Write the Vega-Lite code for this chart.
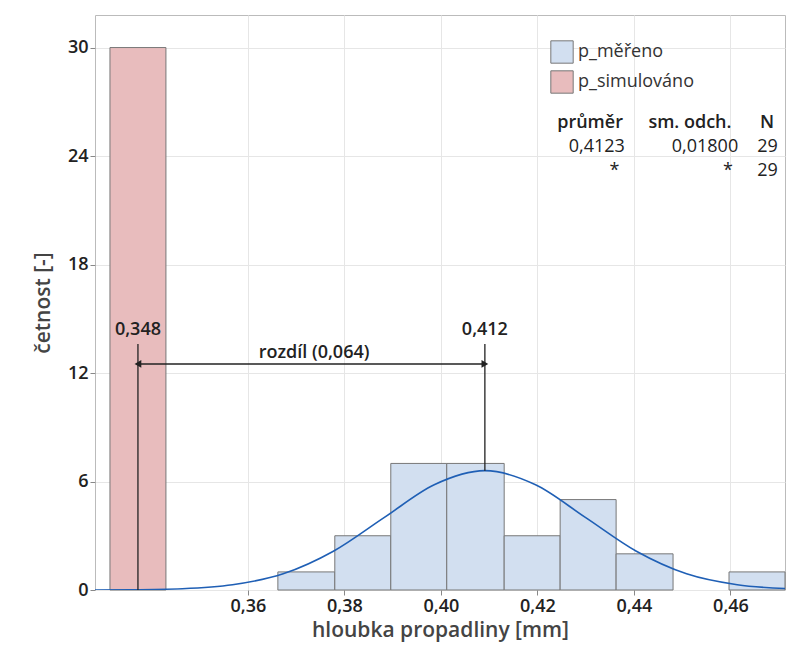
{
  "$schema": "https://vega.github.io/schema/vega-lite/v6.json",
  "width": 690,
  "height": 575,
  "autosize": {"type": "none"},
  "padding": {"left": 95, "top": 15, "right": 10, "bottom": 62},
  "config": {
    "locale": {"number": {"decimal": ",", "thousands": " ", "grouping": [3], "currency": ["", ""]}},
    "font": "Open Sans",
    "view": {"stroke": "#bbbbbb"},
    "axis": {"labelFontSize": 18, "labelFontWeight": 600, "titleFontSize": 21, "titleFontWeight": 600, "titleColor": "#444", "labelColor": "#222", "gridColor": "#e6e6e6", "domain": false, "tickColor": "#888"}
  },
  "datasets": {
    "bars": [
      {"s": "p_simulováno", "x0": 0.3314, "x1": 0.3430, "b": 0, "n": 30},
      {"s": "p_měřeno", "x0": 0.3662, "x1": 0.3780, "b": 0, "n": 1},
      {"s": "p_měřeno", "x0": 0.3780, "x1": 0.3896, "b": 0, "n": 3},
      {"s": "p_měřeno", "x0": 0.3896, "x1": 0.4012, "b": 0, "n": 7},
      {"s": "p_měřeno", "x0": 0.4012, "x1": 0.4131, "b": 0, "n": 7},
      {"s": "p_měřeno", "x0": 0.4131, "x1": 0.4247, "b": 0, "n": 3},
      {"s": "p_měřeno", "x0": 0.4247, "x1": 0.4363, "b": 0, "n": 5},
      {"s": "p_měřeno", "x0": 0.4363, "x1": 0.4481, "b": 0, "n": 2},
      {"s": "p_měřeno", "x0": 0.4597, "x1": 0.4713, "b": 0, "n": 1}
    ],
    "curve": [
      {"x": 0.3283, "y": 0.004},
      {"x": 0.3359, "y": 0.0145},
      {"x": 0.3464, "y": 0.073},
      {"x": 0.3568, "y": 0.290},
      {"x": 0.3673, "y": 0.893},
      {"x": 0.3777, "y": 2.14},
      {"x": 0.3882, "y": 4.00},
      {"x": 0.3986, "y": 5.82},
      {"x": 0.4091, "y": 6.6},
      {"x": 0.4196, "y": 5.82},
      {"x": 0.4300, "y": 4.00},
      {"x": 0.4405, "y": 2.14},
      {"x": 0.4509, "y": 0.893},
      {"x": 0.4614, "y": 0.290},
      {"x": 0.4713, "y": 0.08}
    ],
    "vlines": [
      {"x": 0.3372, "y0": 0, "y1": 13.6},
      {"x": 0.4091, "y0": 6.6, "y1": 13.6}
    ],
    "labelsC": [
      {"x": 0.3372, "y": 14.4, "t": "0,348"},
      {"x": 0.4091, "y": 14.4, "t": "0,412"},
      {"x": 0.3737, "y": 13.1, "t": "rozdíl (0,064)"},
      {"x": 0.4309, "y": 25.8, "t": "průměr"},
      {"x": 0.4516, "y": 25.8, "t": "sm. odch."},
      {"x": 0.4676, "y": 25.8, "t": "N"}
    ],
    "labelsR": [
      {"x": 0.4381, "y": 24.5, "t": "0,4123"},
      {"x": 0.4616, "y": 24.5, "t": "0,01800"},
      {"x": 0.4698, "y": 24.5, "t": "29"},
      {"x": 0.4370, "y": 23.2, "t": "*"},
      {"x": 0.4605, "y": 23.2, "t": "*"},
      {"x": 0.4698, "y": 23.2, "t": "29"}
    ],
    "arrow": [
      {"x": 0.3372, "y": 12.5, "sh": "triangle-left"},
      {"x": 0.4091, "y": 12.5, "sh": "triangle-right"}
    ]
  },
  "layer": [
    {
      "data": {"name": "bars"},
      "mark": {"type": "rect", "stroke": "#777", "strokeWidth": 1},
      "encoding": {
        "x": {"field": "x0", "type": "quantitative", "scale": {"domain": [0.3283, 0.4713], "nice": false, "zero": false}, "axis": {"values": [0.36, 0.38, 0.40, 0.42, 0.44, 0.46], "format": ".2f", "grid": true, "title": "hloubka propadliny [mm]"}},
        "x2": {"field": "x1"},
        "y": {"field": "b", "type": "quantitative", "scale": {"domain": [0, 31.8], "nice": false}, "axis": {"values": [0, 6, 12, 18, 24, 30], "grid": true, "title": "četnost [-]", "titlePadding": 14}},
        "y2": {"field": "n"},
        "fill": {"field": "s", "type": "nominal", "scale": {"domain": ["p_měřeno", "p_simulováno"], "range": ["#d2dff0", "#e8bcbd"]},
          "legend": {"title": null, "orient": "none", "legendX": 455, "legendY": 25, "symbolType": "square", "symbolSize": 500, "labelFontSize": 18, "labelColor": "#333", "symbolStrokeColor": "#777", "symbolStrokeWidth": 1, "rowPadding": 2}}
      }
    },
    {
      "data": {"name": "curve"},
      "mark": {"type": "line", "color": "#1f5fb5", "strokeWidth": 1.6, "interpolate": "monotone", "clip": true},
      "encoding": {"x": {"field": "x", "type": "quantitative"}, "y": {"field": "y", "type": "quantitative"}}
    },
    {
      "data": {"name": "vlines"},
      "mark": {"type": "rule", "color": "#222", "strokeWidth": 1.3},
      "encoding": {"x": {"field": "x", "type": "quantitative"}, "y": {"field": "y0", "type": "quantitative"}, "y2": {"field": "y1"}}
    },
    {
      "data": {"values": [{"a": 0.3372, "b": 0.4091, "y": 12.5}]},
      "mark": {"type": "rule", "color": "#222", "strokeWidth": 1.3},
      "encoding": {"x": {"field": "a", "type": "quantitative"}, "x2": {"field": "b"}, "y": {"field": "y", "type": "quantitative"}}
    },
    {
      "data": {"name": "arrow"},
      "mark": {"type": "point", "filled": true, "color": "#222", "size": 60, "opacity": 1},
      "encoding": {"x": {"field": "x", "type": "quantitative"}, "y": {"field": "y", "type": "quantitative"}, "shape": {"field": "sh", "type": "nominal", "scale": null}}
    },
    {
      "data": {"name": "labelsC"},
      "mark": {"type": "text", "fontSize": 18, "fontWeight": 600, "color": "#222", "align": "center"},
      "encoding": {"x": {"field": "x", "type": "quantitative"}, "y": {"field": "y", "type": "quantitative"}, "text": {"field": "t"}}
    },
    {
      "data": {"name": "labelsR"},
      "mark": {"type": "text", "fontSize": 18, "color": "#222", "align": "right"},
      "encoding": {"x": {"field": "x", "type": "quantitative"}, "y": {"field": "y", "type": "quantitative"}, "text": {"field": "t"}}
    }
  ]
}
